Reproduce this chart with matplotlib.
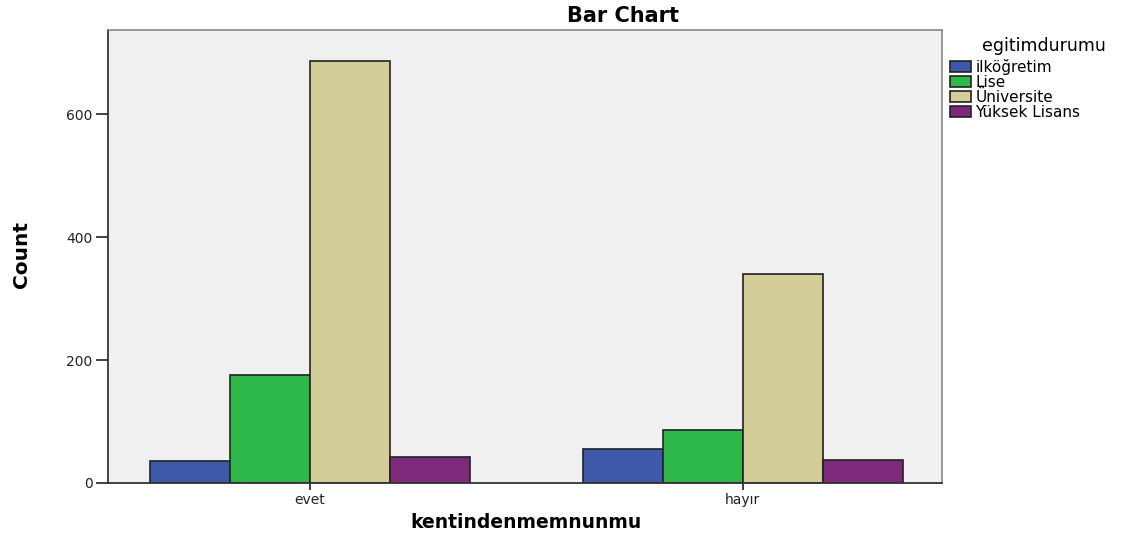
import matplotlib.pyplot as plt
import numpy as np

plt.rcParams['font.family'] = ['DejaVu Sans']

# kentindenmemnunmu x egitimdurumu counts
groups = ['evet', 'hayır']
levels = ['ilköğretim', 'Lise', 'Üniversite', 'Yüksek Lisans']
counts = {
    'ilköğretim': [35, 55],
    'Lise': [175, 86],
    'Üniversite': [686, 340],
    'Yüksek Lisans': [42, 38],
}
colors = ['#3e58ac', '#2fb84a', '#d3ce97', '#7d2a7d']

fig = plt.figure(figsize=(11.34, 5.38), dpi=100)
ax = fig.add_axes([108 / 1134, 1 - 483 / 538, 834 / 1134, 453 / 538])
ax.set_facecolor('#f0f0f0')

x = np.arange(len(groups))
w = 0.185
for i, lev in enumerate(levels):
    ax.bar(x + (i - 1.5) * w, counts[lev], width=w, color=colors[i],
           edgecolor='#222222', linewidth=1.2, label=lev, zorder=2)

ax.set_xlim(-0.466, 1.46)
ax.set_ylim(0, 737)
ax.set_yticks([0, 200, 400, 600])
ax.set_xticks(x)
ax.set_xticklabels(groups)
ax.tick_params(axis='both', direction='out', width=1.2,
               labelsize=10, colors='#222222')
ax.tick_params(axis='y', length=9, pad=2)
ax.tick_params(axis='x', length=5, pad=2)

for s in ['left', 'bottom']:
    ax.spines[s].set_color('#333333')
    ax.spines[s].set_linewidth(1.3)
for s in ['top', 'right']:
    ax.spines[s].set_color('#888888')
    ax.spines[s].set_linewidth(1.2)

fig.text(623 / 1134, 1 - 16 / 538, 'Bar Chart', ha='center', va='center',
         fontsize=15, fontweight='bold')
fig.text(526 / 1134, 1 - 522 / 538, 'kentindenmemnunmu', ha='center', va='center',
         fontsize=13.5, fontweight='bold')
fig.text(21 / 1134, 1 - 255 / 538, 'Count', rotation=90, ha='center', va='center',
         fontsize=14.5, fontweight='bold')

# legend: title placed separately so the gap below it can be set
fig.text(1044 / 1134, 1 - 46 / 538, 'egitimdurumu', ha='center', va='center',
         fontsize=12.5)
leg = fig.legend(loc='upper left', bbox_to_anchor=(950 / 1134, 1 - 59 / 538),
                 frameon=False, fontsize=11, handlelength=1.37,
                 handleheight=0.72, handletextpad=0.3, labelspacing=0.0,
                 borderaxespad=0, borderpad=0)
for p in leg.get_patches():
    p.set_edgecolor('#222222')

fig.savefig('out.png', dpi=100)
